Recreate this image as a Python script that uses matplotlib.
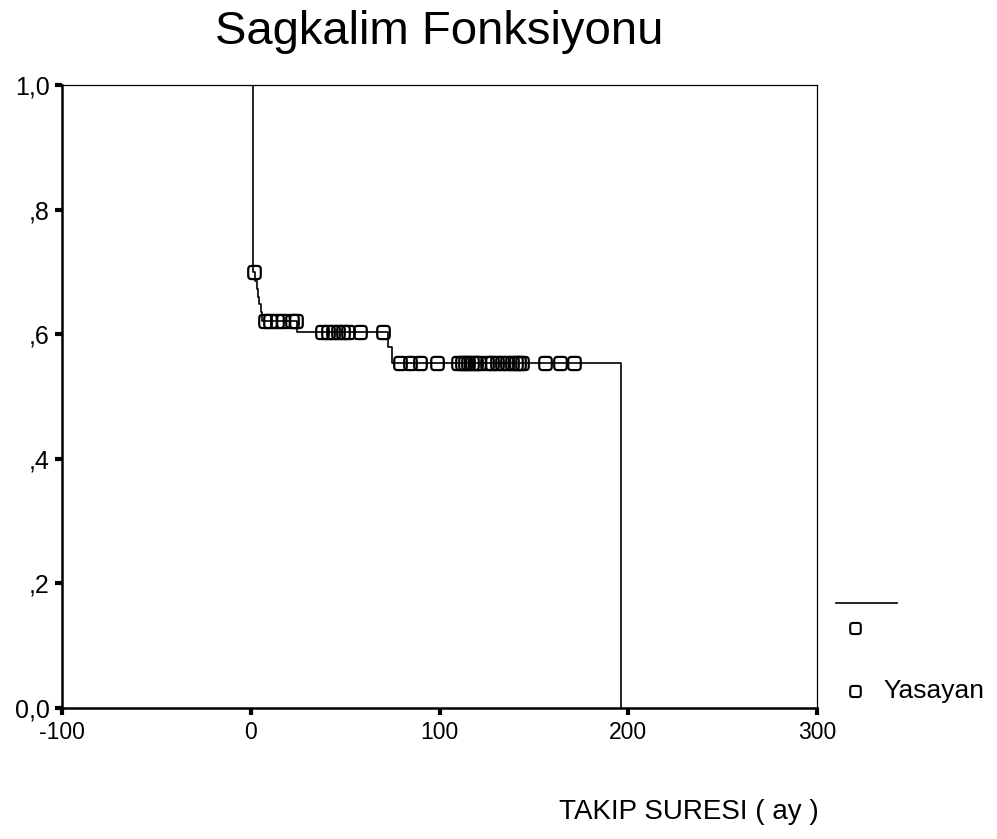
import numpy as np
import matplotlib.pyplot as plt
from matplotlib.path import Path
from matplotlib.lines import Line2D

plt.rcParams["font.family"] = ["Liberation Sans", "DejaVu Sans"]
plt.rcParams["axes.unicode_minus"] = False

# Kaplan-Meier step curve (time in months, survival after each event)
step_times = [0, 1, 2.5, 3.2, 3.9, 4.6, 5.3, 6.0, 24.5, 72.5, 75.0, 196.0]
step_surv = [1.0, 0.700, 0.685, 0.672, 0.660, 0.648, 0.636, 0.622, 0.604, 0.580, 0.554, 0.0]

# censored observations (Yasayan)
censored_times = [1.7, 7.6, 10.2, 13.9, 17.0, 21.8, 23.9,
                  37.7, 41.0, 43.6, 46.3, 48.9, 51.6, 57.9, 70.1,
                  79.1, 84.4, 89.7, 98.7,
                  109.9, 112.0, 113.6, 115.2, 117.3, 119.4, 121.0,
                  125.2, 127.8, 130.5, 133.1, 135.8, 138.4, 140.5, 142.1, 143.7,
                  155.9, 163.9, 171.3]

x_ticks = [-100, 0, 100, 200, 300]
y_ticks = [0.0, 0.2, 0.4, 0.6, 0.8, 1.0]
y_ticklabels = ["0,0", ",2", ",4", ",6", ",8", "1,0"]

# rounded-square marker like SPSS
th = np.linspace(0, 2 * np.pi, 80)
mx = np.sign(np.cos(th)) * np.abs(np.cos(th)) ** 0.4
my = np.sign(np.sin(th)) * np.abs(np.sin(th)) ** 0.4 * 1.05
rsq = Path(np.column_stack([mx, my]), closed=True)

fig = plt.figure(figsize=(9.97, 8.39), dpi=100)
ax = fig.add_axes([0.0622, 0.1561, 0.7573, 0.7426])

ax.step(step_times, step_surv, where="post", color="black", lw=1.2)

st = np.array(step_times)
sv = np.array(step_surv)
idx = np.searchsorted(st, censored_times, side="right") - 1
ax.plot(censored_times, sv[idx], linestyle="none", marker=rsq, markersize=9.5,
        mfc="none", mec="black", mew=1.6)

ax.set_xlim(-100, 300)
ax.set_ylim(0, 1.0)
ax.set_xticks(x_ticks)
ax.set_yticks(y_ticks)
ax.set_yticklabels(y_ticklabels)
ax.tick_params(direction="out", length=5, width=3, pad=4)
ax.tick_params(axis="x", labelsize=16.5)
ax.tick_params(axis="y", labelsize=18)
for s in ["left", "bottom"]:
    ax.spines[s].set_linewidth(1.8)
for s in ["top", "right"]:
    ax.spines[s].set_linewidth(0.9)

fig.text(0.441, 0.962, "Sagkalim Fonksiyonu", ha="center", va="center", fontsize=34)
fig.text(0.821, 0.032, "TAKIP SURESI ( ay )", ha="right", va="center", fontsize=20)

# legend drawn at right, SPSS style
W, H = 997, 839
fig.add_artist(Line2D([836 / W, 897 / W], [1 - 603 / H, 1 - 603 / H], color="black", lw=1.2))
fig.add_artist(Line2D([855 / W], [1 - 628 / H], marker=rsq, markersize=8, mfc="none",
                      mec="black", mew=1.5, linestyle="none"))
fig.add_artist(Line2D([855 / W], [1 - 691 / H], marker=rsq, markersize=8, mfc="none",
                      mec="black", mew=1.5, linestyle="none"))
fig.text(883 / W, 1 - 691 / H, "Yasayan", ha="left", va="center", fontsize=19)

fig.savefig("out.png", dpi=100)
